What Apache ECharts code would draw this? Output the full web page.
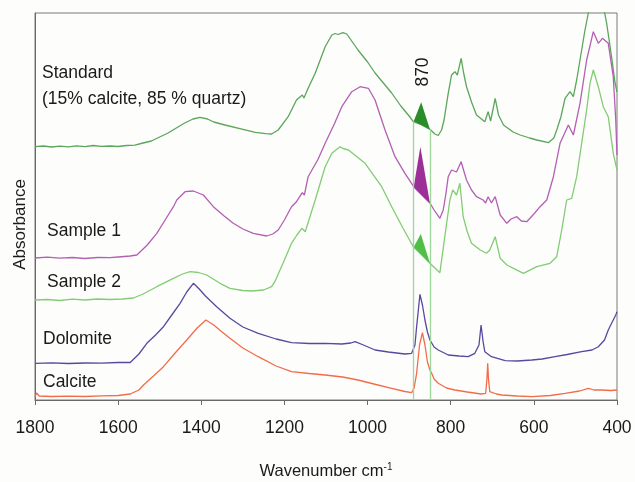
<!DOCTYPE html>
<html>
<head>
<meta charset="utf-8">
<script src="https://cdn.jsdelivr.net/npm/echarts@6/dist/echarts.min.js"></script>
<style>
  html, body { margin: 0; padding: 0; background: #fdfdfc; }
  #chart { width: 635px; height: 482px; }
</style>
</head>
<body>
<div id="chart"></div>
<script>
// FTIR spectra, [wavenumber cm-1, absorbance (arbitrary, offset)]
var standard = [
    [1800, 253.3], [1780, 254], [1760, 253], [1740, 253.8], [1720, 253.2], [1700, 254.2],
    [1680, 253.4], [1660, 254.5], [1640, 253.6], [1620, 254], [1600, 253.5], [1580, 254.5],
    [1560, 254.8], [1540, 257], [1520, 259], [1500, 263], [1480, 267], [1460, 272],
    [1440, 277], [1420, 281], [1403, 282.7], [1385, 281], [1370, 278], [1343, 275],
    [1300, 270.7], [1270, 267.7], [1245, 266.3], [1231, 266], [1215, 270], [1191, 283.3],
    [1171, 300], [1157, 305], [1153, 302], [1143, 311.7], [1126, 326.7], [1102, 353.3],
    [1086, 365], [1078, 366.5], [1071, 365.5], [1059, 367.3], [1050, 366], [1023, 350],
    [1000, 338], [982, 327], [960, 316], [942, 307], [920, 294], [900, 284], [890, 278.3],
    [872, 275.5], [850, 270.7], [838, 266], [830, 264.5], [822, 270], [816, 280],
    [806, 306.7], [798, 325], [790, 328.3], [784, 325], [775, 341.7], [768, 325],
    [762, 313.3], [750, 298], [738, 285], [718, 278.3], [710, 288.3], [704, 279],
    [702, 278.3], [693, 301.7], [685, 285], [673, 275], [650, 268], [633, 265],
    [610, 262], [593, 260], [565, 257.3], [552, 262], [545, 270], [535, 283],
    [525, 301.7], [513, 308.3], [505, 303.3], [497, 320], [489, 340], [477, 370],
    [469, 387], [460, 405], [445, 410], [432, 392], [425, 377], [413, 343], [405, 318], [400, 308]
];
var sample1 = [
    [1800, 142], [1770, 142.8], [1740, 141.8], [1710, 142.5], [1680, 141.5], [1650, 142.5],
    [1620, 142.3], [1600, 143], [1571, 144], [1555, 145], [1530, 155], [1507, 166.7],
    [1487, 180], [1467, 193.3], [1459, 200], [1439, 208.3], [1419, 209], [1395, 205],
    [1371, 193.3], [1345, 184], [1323, 176.7], [1300, 171], [1275, 166.7], [1243, 164],
    [1228, 166], [1215, 170], [1200, 180], [1183, 193.3], [1171, 198.3], [1157, 207.3],
    [1152, 205], [1143, 223.3], [1120, 240], [1102, 256.7], [1080, 276], [1062, 293.3],
    [1038, 308.3], [1018, 313.3], [998, 311.7], [982, 300], [958, 270], [934, 243.3],
    [910, 226.7], [889, 213.3], [872, 206], [850, 197], [840, 190], [826, 181.7],
    [818, 190], [812, 205], [806, 223.3], [798, 230], [795, 232], [786, 228],
    [775, 238.3], [762, 220], [750, 210], [738, 203.3], [722, 200], [716, 197],
    [710, 203.3], [702, 197], [693, 203.3], [681, 185], [665, 176.7], [655, 181],
    [641, 183.3], [630, 179], [617, 178.3], [600, 186], [585, 193.3], [569, 200],
    [553, 223.3], [537, 256.7], [517, 275], [505, 265], [489, 296.7], [473, 340],
    [457, 368.3], [445, 356.7], [435, 361.7], [421, 356.7], [409, 323.3], [403, 280], [400, 245]
];
var sample2 = [
    [1800, 100], [1770, 100.5], [1740, 99.5], [1710, 100.8], [1680, 100], [1650, 101],
    [1620, 100.5], [1590, 101], [1563, 102], [1540, 106], [1507, 113.3], [1467, 121.7],
    [1445, 126], [1427, 128.3], [1407, 127.5], [1387, 125], [1355, 116.7], [1331, 111.7],
    [1300, 109.5], [1279, 109], [1250, 110], [1231, 113.3], [1223, 118.3], [1200, 140],
    [1183, 156.7], [1170, 165], [1158, 171.7], [1150, 168.3], [1126, 200], [1102, 233.3],
    [1086, 246.7], [1066, 253.3], [1059, 251.5], [1046, 250], [1006, 236.7], [966, 213.3],
    [942, 193.3], [915, 172], [890, 153.3], [872, 146], [850, 136.7], [826, 127.3],
    [814, 164], [802, 200], [795, 210], [786, 205], [778, 216.7], [770, 183.3],
    [760, 168], [750, 156.7], [729, 150], [714, 146.7], [706, 150], [693, 163.3],
    [681, 141.7], [665, 135], [649, 131.7], [625, 126.7], [593, 133.3], [561, 136.7],
    [545, 143.3], [533, 170], [521, 200], [509, 201.7], [497, 223.3], [473, 290],
    [465, 316.7], [457, 330], [445, 313.3], [433, 293.3], [421, 283.3], [409, 246.7], [400, 230]
];
var dolomite = [
    [1800, 36.7], [1760, 37.2], [1720, 36.5], [1680, 37], [1640, 36.8], [1600, 37.5],
    [1571, 37.5], [1550, 46], [1531, 56.7], [1510, 65], [1491, 73.3], [1471, 85],
    [1451, 96.7], [1435, 108], [1419, 116.7], [1405, 111], [1390, 104], [1363, 93.3],
    [1331, 81.7], [1300, 73], [1263, 66.7], [1220, 61], [1183, 57.3], [1140, 56.5],
    [1102, 56.7], [1062, 56], [1040, 57], [1030, 58.3], [1010, 55], [982, 50],
    [950, 48], [910, 46], [894, 46.7], [886, 55], [882, 73.3], [874, 105.7],
    [868, 95], [862, 80], [856, 68], [850, 60], [840, 53], [830, 50], [806, 45],
    [780, 44], [758, 43.3], [742, 46.7], [732, 55], [727, 75], [722, 58], [718, 48.3],
    [702, 43.3], [669, 39.3], [640, 39], [605, 40], [580, 41], [549, 43.3], [520, 45.5],
    [485, 48.3], [460, 50], [445, 53.3], [430, 60], [421, 70], [409, 80], [403, 85], [400, 88.3]
];
var calcite = [
    [1800, 3.3], [1796, 7], [1790, 4], [1760, 3.5], [1720, 3.8], [1680, 3.5],
    [1640, 4.2], [1600, 4.5], [1571, 6], [1550, 10], [1539, 15], [1515, 24],
    [1491, 33.3], [1465, 46], [1435, 60], [1410, 72], [1389, 80], [1370, 75],
    [1350, 68], [1331, 61.7], [1300, 52], [1263, 43.3], [1220, 34], [1183, 28.3],
    [1140, 26.5], [1102, 25], [1060, 23], [1023, 20], [980, 15.5], [942, 11.7],
    [910, 8.5], [894, 7.3], [888, 12], [882, 26.7], [875, 55], [868, 67.3],
    [862, 55], [856, 38], [850, 30], [846, 27], [840, 21], [830, 16.7], [810, 12],
    [790, 10], [760, 8], [727, 6], [716, 6.7], [713, 20], [711, 36.7], [709, 20],
    [706, 8.3], [690, 6], [677, 5], [640, 4], [605, 3.3], [560, 4.5], [525, 6.7],
    [490, 9], [469, 11.7], [455, 10], [437, 10], [415, 9.5], [400, 10]
];

// 870 cm-1 carbonate band: [left wn, left abs, apex wn, apex abs, right wn, right abs]
var peak870 = [
    [889, 278.8, 871, 297.7, 850, 270.7],
    [889, 213.0, 873, 253.3, 850, 196.7],
    [889, 153.0, 872, 166.0, 850, 136.7]
];
var peakColors = ['#2a8c2a', '#9c2f98', '#50bf46'];
var bandEdges = [890, 850];
var bandTops = [278.3, 270.7];

var xTicks = [1800, 1600, 1400, 1200, 1000, 800, 600, 400];

var names = [
    { text: 'Standard', x: 42, y: 73 },
    { text: '(15% calcite, 85 % quartz)', x: 42, y: 99 },
    { text: 'Sample 1', x: 47, y: 231 },
    { text: 'Sample 2', x: 47, y: 282 },
    { text: 'Dolomite', x: 43, y: 339 },
    { text: 'Calcite', x: 43, y: 382 }
];

function spectrum (data, color) {
    return {
        type: 'line',
        data: data,
        symbol: 'none',
        smooth: false,
        clip: true,
        lineStyle: { color: color, width: 1.3 },
        z: 2
    };
}

var chartobj = echarts.init(document.getElementById('chart'));

var graphics = names.map(function (n) {
    return {
        type: 'text',
        x: n.x,
        y: n.y,
        style: {
            text: n.text,
            fill: '#1a1a1a',
            font: '17.5px "Liberation Sans", Arial, sans-serif',
            textVerticalAlign: 'middle'
        }
    };
});
graphics.push({
    type: 'text',
    x: 423,
    y: 72,
    rotation: Math.PI / 2,
    style: {
        text: '870',
        fill: '#1a1a1a',
        font: '17.5px "Liberation Sans", Arial, sans-serif',
        textAlign: 'center',
        textVerticalAlign: 'middle'
    }
});

var option = {
    backgroundColor: '#fdfdfc',
    animation: false,
    textStyle: { fontFamily: '"Liberation Sans", Arial, sans-serif' },
    grid: {
        left: 35, right: 18, top: 13, bottom: 82,
        outerBoundsMode: 'none',
        containLabel: false,
        show: true,
        borderColor: '#7a7a7a',
        borderWidth: 1
    },
    xAxis: {
        type: 'value',
        inverse: true,
        min: 400,
        max: 1800,
        interval: 200,
        name: '{a|Wavenumber cm}{b|-1}',
        nameLocation: 'middle',
        nameGap: 62,
        nameTextStyle: {
            rich: {
                a: { fontSize: 16.5, color: '#1a1a1a' },
                b: { fontSize: 10, color: '#1a1a1a', padding: [0, 0, 9, 0] }
            }
        },
        axisLine: { lineStyle: { color: '#6a6a6a', width: 1 } },
        axisTick: { show: true, length: 5, lineStyle: { color: '#6a6a6a' } },
        axisLabel: {
            fontSize: 17.5,
            color: '#1a1a1a',
            margin: 19,
            formatter: function (v) { return xTicks.indexOf(v) >= 0 ? String(v) : ''; }
        },
        splitLine: { show: false }
    },
    yAxis: {
        type: 'value',
        min: 0,
        max: 387,
        name: 'Absorbance',
        nameLocation: 'middle',
        nameGap: 6,
        nameTextStyle: { fontSize: 17, color: '#1a1a1a', padding: [0, 36, 0, 0] },
        axisLine: { show: true, lineStyle: { color: '#6a6a6a', width: 1 } },
        axisTick: { show: false },
        axisLabel: { show: false },
        splitLine: { show: false }
    },
    graphic: graphics,
    series: [
        Object.assign(spectrum(standard, '#5aa65a'), {
            markLine: {
                silent: true,
                symbol: 'none',
                label: { show: false },
                lineStyle: { color: '#9dd89a', width: 1.3, type: 'solid' },
                data: bandEdges.map(function (wn, i) {
                    return [{ coord: [wn, 0] }, { coord: [wn, bandTops[i]] }];
                })
            }
        }),
        spectrum(sample1, '#b35fb3'),
        spectrum(sample2, '#82cc74'),
        spectrum(dolomite, '#5a479e'),
        spectrum(calcite, '#f26c4a'),
        {
            type: 'custom',
            data: peak870,
            z: 3,
            renderItem: function (params, api) {
                var pts = [
                    api.coord([api.value(0), api.value(1)]),
                    api.coord([api.value(2), api.value(3)]),
                    api.coord([api.value(4), api.value(5)])
                ];
                return {
                    type: 'polygon',
                    shape: { points: pts },
                    style: { fill: peakColors[params.dataIndex] }
                };
            }
        }
    ]
};

chartobj.setOption(option);
</script>
</body>
</html>
